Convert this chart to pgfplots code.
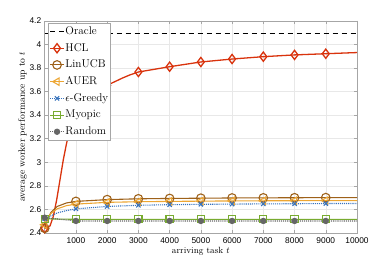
\documentclass[border=0pt]{standalone}
\usepackage{fontspec}
\usepackage{pgfplots}
\pgfplotsset{compat=1.18}
\newfontfamily\tickfont{Liberation Sans}
\definecolor{chcl}{rgb}{0.85,0.20,0.05}
\definecolor{clin}{rgb}{0.62,0.38,0.10}
\definecolor{cauer}{rgb}{0.93,0.65,0.20}
\definecolor{ceps}{rgb}{0.22,0.45,0.74}
\definecolor{cmyo}{rgb}{0.47,0.67,0.19}
\definecolor{cran}{rgb}{0.40,0.40,0.40}
\begin{document}
\begin{tikzpicture}
\begin{axis}[
  scale only axis,
  width=312.3bp, height=212.3bp,
  xmin=0, xmax=10000, ymin=2.4, ymax=4.2,
  xtick={1000,2000,...,10000},
  ytick={2.4,2.6,...,4.2},
  scaled x ticks=false,
  /pgf/number format/1000 sep={},
  /pgf/number format/assume math mode=true,
  tick label style={font=\tickfont\fontsize{8.4}{9}\selectfont},
  xticklabel style={yshift=-1bp},
  grid=major,
  major grid style={gray!18, line width=0.4pt},
  tick align=inside,
  major tick length=3bp,
  axis line style={gray!70},
  every tick/.style={gray!70},
  xlabel={arriving task $t$},
  ylabel={\addfontfeature{LetterSpace=14}average worker performance up to $t$},
  xlabel style={font=\fontsize{9}{10}\selectfont, yshift=3bp},
  ylabel style={font=\fontsize{9.4}{10}\selectfont, yshift=-4bp},
  legend cell align=left,
  legend style={at={(0,1)}, anchor=north west, xshift=3bp, yshift=-2.6bp,
    font=\fontsize{11.3}{12}\selectfont\addfontfeature{LetterSpace=3}, draw=gray!70, fill=white,
    inner sep=1.5bp, row sep=3.6bp,
    nodes={inner sep=0.8bp, text height=8.5bp, text depth=3bp}},
  legend image code/.code={\draw[mark=none] (0bp,0bp) -- (14bp,0bp); \draw plot[only marks] coordinates {(7bp,0bp)};},
]
\addplot[black, dashed, line width=1.3pt, dash pattern=on 5bp off 4bp] coordinates {(0,4.092) (10000,4.092)};
\addlegendentry{Oracle}
\addplot[chcl, line width=1.3pt, mark=diamond, mark size=4.6bp, mark options={solid, fill=white, line width=1.3pt},
  mark indices={1,9,13,17,18,19,20,21,22,23}] coordinates {
(0,2.44) (170,2.46) (275,2.54) (383,2.68) (489,2.85) (595,3.02) (700,3.16) (808,3.28) (1000,3.42)
(1200,3.50) (1500,3.575) (1800,3.625) (2000,3.652) (2140,3.67) (2500,3.715) (2725,3.74) (3000,3.765)
(4000,3.81) (5000,3.85) (6000,3.875) (7000,3.895) (8000,3.91) (9000,3.92) (10000,3.93)};
\addlegendentry{HCL}
\addplot[clin, line width=1.1pt, mark=o, mark size=4.3bp, mark options={solid, fill=white, line width=1.1pt},
  mark indices={1,6,7,8,9,10,11,12,13,14}] coordinates {
(0,2.44) (100,2.52) (200,2.575) (400,2.625) (700,2.655) (1000,2.668) (2000,2.683) (3000,2.69)
(4000,2.693) (5000,2.695) (6000,2.697) (7000,2.698) (8000,2.699) (9000,2.70) (10000,2.70)};
\addlegendentry{LinUCB}
\addplot[cauer, line width=1.1pt, mark=triangle, mark size=4.3bp, mark options={solid, rotate=90, fill=white, line width=1.1pt},
  mark indices={1,6,7,8,9,10,11,12,13,14}] coordinates {
(0,2.47) (100,2.53) (200,2.565) (400,2.605) (700,2.632) (1000,2.645) (2000,2.66) (3000,2.665)
(4000,2.668) (5000,2.67) (6000,2.672) (7000,2.673) (8000,2.674) (9000,2.675) (10000,2.675)};
\addlegendentry{AUER}
\addplot[ceps, line width=1.1pt, densely dotted, mark=x, mark size=3bp, mark options={solid, line width=1.1pt},
  mark indices={1,6,7,8,9,10,11,12,13,14}] coordinates {
(0,2.52) (100,2.53) (200,2.545) (400,2.57) (700,2.59) (1000,2.605) (2000,2.625) (3000,2.635)
(4000,2.64) (5000,2.643) (6000,2.645) (7000,2.647) (8000,2.648) (9000,2.65) (10000,2.65)};
\addlegendentry{$\epsilon$-Greedy}
\addplot[cmyo, line width=1.1pt, mark=square, mark size=3.6bp, mark options={solid, fill=white, line width=1.1pt},
  mark indices={1,2,3,4,5,6,7,8,9,10}] coordinates {
(0,2.52) (1000,2.516) (2000,2.516) (3000,2.516) (4000,2.516) (5000,2.516) (6000,2.516)
(7000,2.516) (8000,2.516) (9000,2.516) (10000,2.516)};
\addlegendentry{Myopic}
\addplot[cran, line width=1.1pt, densely dotted, mark=*, mark size=2.6bp, mark options={solid},
  mark indices={1,2,3,4,5,6,7,8,9,10}] coordinates {
(0,2.53) (1000,2.502) (2000,2.502) (3000,2.502) (4000,2.502) (5000,2.502) (6000,2.502)
(7000,2.502) (8000,2.502) (9000,2.502) (10000,2.502)};
\addlegendentry{Random}
\end{axis}
\pgfresetboundingbox
\path[use as bounding box] (current axis.south west) ++(-44.7bp,-30bp) rectangle ([xshift=25bp,yshift=20.7bp]current axis.north east);
\end{tikzpicture}
\end{document}
